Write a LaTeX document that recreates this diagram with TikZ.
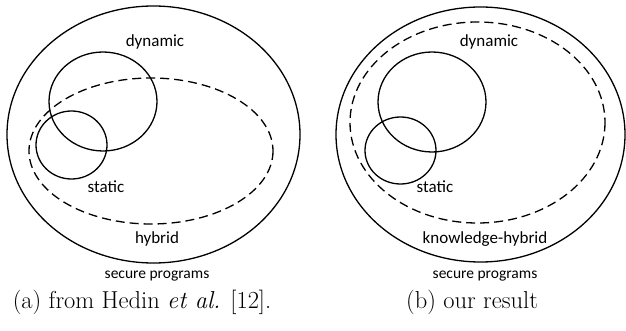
\documentclass[tikz,border=0pt]{standalone}
\usepackage{fontspec}
\newfontfamily\carl{Carlito}
\begin{document}
\begin{tikzpicture}[x=1pt,y=-1pt,
  setline/.style={line width=1.3pt},
  dashline/.style={line width=1.3pt,dash pattern=on 9pt off 5pt},
  lbl/.style={font=\carl\fontsize{17}{20}\selectfont,inner sep=0pt},
  small/.style={font=\carl\fontsize{15.5}{18}\selectfont,inner sep=0pt},
  captxt/.style={font=\fontsize{24.5}{28}\selectfont,inner sep=0pt}]
\useasboundingbox (0,0) rectangle (626,331);
% left panel
\draw[setline] (153.5,134.5) ellipse [x radius=146.5, y radius=128.5];
\draw[dashline] (151,151) ellipse [x radius=122, y radius=73];
\draw[setline] (103,101.5) ellipse [x radius=54, y radius=49.5];
\draw[setline] (71.5,145) ellipse [x radius=35.5, y radius=34];
\node[lbl] (dynA) at (155,42) {dynamic};
\node[lbl] (statA) at (106,187) {static};
\node[lbl] (hybA) at (157,239) {hybrid};
\node[small] (secA) at (157,276) {secure programs};
\node[captxt] (capA) at (142,302) {(a) from Hedin \textit{et al.} [12].};
% right panel
\draw[setline] (480.5,134.5) ellipse [x radius=144.5, y radius=127.5];
\draw[dashline] (477.5,122.5) ellipse [x radius=127.5, y radius=100.5];
\draw[setline] (432,102) ellipse [x radius=54, y radius=50];
\draw[setline] (400.5,150.5) ellipse [x radius=35.5, y radius=33.5];
\node[lbl] (dynB) at (489,42) {dynamic};
\node[lbl] (statB) at (435,187) {static};
\node[lbl] (hybB) at (485,239) {knowledge-hybrid};
\node[small] (secB) at (485,276) {secure programs};
\node[captxt] (capB) at (472,302) {(b) our result};
\end{tikzpicture}
\end{document}
